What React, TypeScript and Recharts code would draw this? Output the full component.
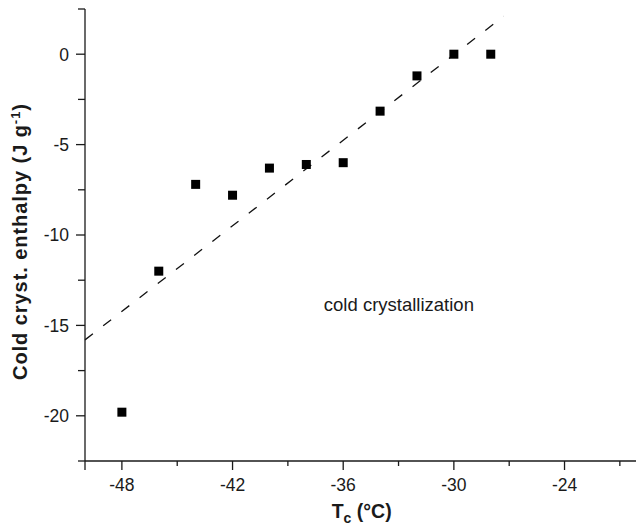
import {
  ScatterChart,
  Scatter,
  XAxis,
  YAxis,
  ReferenceLine,
  ReferenceDot,
  Label,
} from "recharts";

// crystallization temperature (°C) vs. cold crystallization enthalpy (J/g)
const tempC = [-48, -46, -44, -42, -40, -38, -36, -34, -32, -30, -28];
const enthalpy = [-19.8, -12.0, -7.2, -7.8, -6.3, -6.1, -6.0, -3.15, -1.2, 0, 0];

// end points of the linear fit (dashed)
const fitX = [-50, -27.3];
const fitY = [-15.8, 2.1];

const xTicks = [-50, -48, -45, -42, -39, -36, -33, -30, -27, -24, -21];
const xMajor = [-48, -42, -36, -30, -24];
const yTicks = [-22.5, -20, -17.5, -15, -12.5, -10, -7.5, -5, -2.5, 0, 2.5];
const yMajor = [-20, -15, -10, -5, 0];

const FONT = '"Liberation Sans", Arial, Helvetica, sans-serif';
const INK = "#1a1a1a";

const points = tempC.map((x, i) => ({ x, y: enthalpy[i] }));

function XTick(props: any) {
  const { x, y, payload } = props;
  const v = payload.value;
  const labelled = xMajor.includes(v);
  const len = labelled || v === -50 ? 9 : 5;
  return (
    <g>
      <line x1={x} y1={y} x2={x} y2={y + len} stroke={INK} strokeWidth={1.3} />
      {labelled && (
        <text x={x} y={y + 30} textAnchor="middle" fontSize={17.5} fontFamily={FONT} fill={INK}>
          {String(v)}
        </text>
      )}
    </g>
  );
}

function YTick(props: any) {
  const { x, y, payload } = props;
  const v = payload.value;
  const labelled = yMajor.includes(v);
  return (
    <g>
      <line x1={x} y1={y} x2={x - (labelled ? 9 : 7)} y2={y} stroke={INK} strokeWidth={1.3} />
      {labelled && (
        <text x={x - 16} y={y + 6.3} textAnchor="end" fontSize={17.5} fontFamily={FONT} fill={INK}>
          {String(v)}
        </text>
      )}
    </g>
  );
}

function Square(props: any) {
  const { cx, cy } = props;
  return <rect x={cx - 4.5} y={cy - 4.5} width={9} height={9} fill="#000" />;
}

function YTitle(props: any) {
  const vb = props.viewBox;
  const cx = vb.x + 27;
  const cy = vb.y + vb.height / 2 + 7;
  return (
    <text
      x={cx}
      y={cy}
      transform={`rotate(-90, ${cx}, ${cy})`}
      textAnchor="middle"
      fontSize={20}
      fontWeight="bold"
      fontFamily={FONT}
      fill={INK}
      textLength={276}
      lengthAdjust="spacing"
    >
      Cold cryst. enthalpy (J g
      <tspan dy={-7.5} fontSize={13}>
        -1
      </tspan>
      <tspan dy={7.5}>)</tspan>
    </text>
  );
}

function XTitle(props: any) {
  const vb = props.viewBox;
  const cx = vb.x + vb.width / 2;
  const cy = vb.y + 57;
  return (
    <text x={cx} y={cy} textAnchor="middle" fontSize={19.5} fontWeight="bold" fontFamily={FONT} fill={INK}>
      T
      <tspan dy={5} fontSize={14}>
        c
      </tspan>
      <tspan dy={-5}> (°C)</tspan>
    </text>
  );
}

function Note(props: any) {
  const vb = props.viewBox;
  return (
    <text x={vb.x} y={vb.y} fontSize={18.5} fontFamily={FONT} fill={INK}>
      cold crystallization
    </text>
  );
}

export default function App() {
  return (
    <div
      style={{
        position: "fixed",
        left: 0,
        top: 0,
        width: 636,
        height: 528,
        overflow: "hidden",
        background: "#fff",
      }}
    >
      <ScatterChart width={660} height={528} margin={{ top: 9, right: 21.7, bottom: 0, left: 0 }}>
        <XAxis
          type="number"
          dataKey="x"
          domain={[-50, -20]}
          ticks={xTicks}
          interval={0}
          tickSize={0}
          tickMargin={0}
          tickLine={false}
          tick={(p: any) => <XTick {...p} />}
          height={67}
          axisLine={{ stroke: INK, strokeWidth: 1.3 }}
        >
          <Label content={(p: any) => <XTitle {...p} />} />
        </XAxis>
        <YAxis
          type="number"
          dataKey="y"
          domain={[-22.5, 2.5]}
          ticks={yTicks}
          interval={0}
          tickSize={0}
          tickMargin={0}
          tickLine={false}
          tick={(p: any) => <YTick {...p} />}
          width={85}
          axisLine={{ stroke: INK, strokeWidth: 1.3 }}
        >
          <Label content={(p: any) => <YTitle {...p} />} />
        </YAxis>
        <ReferenceLine
          segment={[
            { x: fitX[0], y: fitY[0] },
            { x: fitX[1], y: fitY[1] },
          ]}
          stroke="#111"
          strokeWidth={1.3}
          strokeDasharray="10 13"
          ifOverflow="visible"
        />
        <Scatter data={points} shape={(p: any) => <Square {...p} />} isAnimationActive={false} />
        <ReferenceDot
          x={-37.05}
          y={-14.2}
          r={0}
          fill="none"
          stroke="none"
          ifOverflow="visible"
          label={{ content: (p: any) => <Note {...p} /> }}
        />
      </ScatterChart>
    </div>
  );
}
